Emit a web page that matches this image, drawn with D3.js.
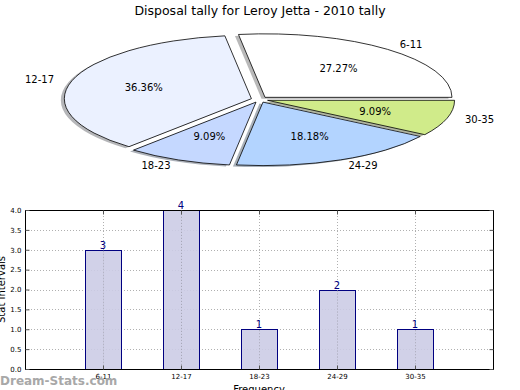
<!DOCTYPE html>
<html>
<head>
<meta charset="utf-8">
<script src="https://cdn.jsdelivr.net/npm/d3@7"></script>
<style>
body { margin: 0; background: #fff; }
svg { display: block; font-family: 'DejaVu Sans', sans-serif; }
</style>
</head>
<body>
<div id="canvas"></div>
<script>
const title = 'Disposal tally for Leroy Jetta - 2010 tally';
const categories = ['6-11', '12-17', '18-23', '24-29', '30-35'];
const counts = [3, 4, 1, 2, 1];
const sliceColors = ['#ffffff', '#ebf1ff', '#c5d8ff', '#b3d4ff', '#d0eb8a'];
const yTicks = [0, 0.5, 1, 1.5, 2, 2.5, 3, 3.5, 4];

const w = 520;
const h = 390;

const svg = d3.select('#canvas')
  .append('svg')
  .attr('width', w)
  .attr('height', h);

svg.append('text')
  .attr('x', 260)
  .attr('y', 15)
  .attr('text-anchor', 'middle')
  .style('font-size', '12.5px')
  .text(title);

// ---- pie (squashed, exploded, with shadow) ----
const cx = 259.5, cy = 99.5, rx = 187, ry = 63.5, explode = 0.045;
const total = d3.sum(counts);

const pie = d3.pie().sort(null).startAngle(Math.PI / 2).endAngle(Math.PI / 2 - 2 * Math.PI);
const arcs = pie(counts);
const arc = d3.arc().innerRadius(0).outerRadius(1);

// mid angle in svg terms: point = (sin a, -cos a)
arcs.forEach(d => {
  const a = (d.startAngle + d.endAngle) / 2;
  d.ux = Math.sin(a);
  d.uy = -Math.cos(a);
  d.ox = cx + explode * rx * d.ux;
  d.oy = cy + explode * ry * d.uy;
});

const pieG = svg.append('g');

pieG.selectAll('path.shadow')
  .data(arcs)
  .enter()
  .append('path')
  .attr('class', 'shadow')
  .attr('d', arc)
  .attr('transform', d => 'translate(' + (d.ox - 3.5) + ',' + (d.oy + 1.5) + ') scale(' + rx + ',' + ry + ')')
  .attr('fill', (d, i) => d3.rgb(sliceColors[i]).darker(2.2))
  .attr('fill-opacity', 0.5);

pieG.selectAll('path.slice')
  .data(arcs)
  .enter()
  .append('path')
  .attr('class', 'slice')
  .attr('d', arc)
  .attr('transform', d => 'translate(' + d.ox + ',' + d.oy + ') scale(' + rx + ',' + ry + ')')
  .attr('fill', (d, i) => sliceColors[i])
  .attr('stroke', '#000')
  .attr('stroke-width', 0.8)
  .attr('vector-effect', 'non-scaling-stroke');

pieG.selectAll('text.label')
  .data(arcs)
  .enter()
  .append('text')
  .attr('class', 'label')
  .attr('x', d => d.ox + 1.1 * rx * d.ux)
  .attr('y', d => d.oy + 1.1 * ry * d.uy)
  .attr('dy', '0.35em')
  .attr('text-anchor', d => d.ux > 0 ? 'start' : 'end')
  .style('font-size', '10px')
  .text((d, i) => categories[i]);

pieG.selectAll('text.pct')
  .data(arcs)
  .enter()
  .append('text')
  .attr('class', 'pct')
  .attr('x', d => d.ox + 0.6 * rx * d.ux)
  .attr('y', d => d.oy + 0.6 * ry * d.uy)
  .attr('dy', '0.35em')
  .attr('text-anchor', 'middle')
  .style('font-size', '10px')
  .text(d => (d.value / total * 100).toFixed(2) + '%');

// ---- bar chart ----
const mLeft = 25, mRight = 493, mTop = 210, mBottom = 369;

const x = d3.scaleLinear().domain([-1, 5]).range([mLeft, mRight]);
const y = d3.scaleLinear().domain([0, 4]).range([mBottom, mTop]);
const barW = x(0.46) - x(0);

const grid = svg.append('g')
  .attr('stroke', '#b0b0b0')
  .attr('stroke-width', 1)
  .attr('stroke-dasharray', '1,2');

grid.selectAll('line.h')
  .data(yTicks.slice(1, -1))
  .enter()
  .append('line')
  .attr('x1', mLeft).attr('x2', mRight)
  .attr('y1', d => Math.round(y(d)) + 0.5).attr('y2', d => Math.round(y(d)) + 0.5);

grid.selectAll('line.v')
  .data(categories)
  .enter()
  .append('line')
  .attr('x1', (d, i) => Math.round(x(i)) + 0.5).attr('x2', (d, i) => Math.round(x(i)) + 0.5)
  .attr('y1', mTop).attr('y2', mBottom);

svg.append('g')
  .selectAll('rect')
  .data(counts)
  .enter()
  .append('rect')
  .attr('x', (d, i) => Math.round(x(i) - barW / 2) + 0.5)
  .attr('y', d => Math.round(y(d)) + 0.5)
  .attr('width', Math.round(barW))
  .attr('height', d => Math.round(y(0)) - Math.round(y(d)))
  .attr('fill', 'rgba(204,204,230,0.9)')
  .attr('stroke', '#000080')
  .attr('stroke-width', 1);

// vertical grid shows through the bars in the reference
const grid2 = svg.append('g')
  .attr('stroke', '#a8a8b8')
  .attr('stroke-width', 1)
  .attr('stroke-dasharray', '1,2');
grid2.selectAll('line')
  .data(categories)
  .enter()
  .append('line')
  .attr('x1', (d, i) => Math.round(x(i)) + 0.5).attr('x2', (d, i) => Math.round(x(i)) + 0.5)
  .attr('y1', (d, i) => y(counts[i]) + 1).attr('y2', mBottom);

svg.append('g')
  .selectAll('text')
  .data(counts)
  .enter()
  .append('text')
  .attr('x', (d, i) => x(i))
  .attr('y', d => y(d) - 1)
  .attr('text-anchor', 'middle')
  .attr('fill', '#000080')
  .style('font-size', '10px')
  .text(d => d);

// frame
svg.append('rect')
  .attr('x', mLeft + 0.5).attr('y', mTop + 0.5)
  .attr('width', mRight - mLeft).attr('height', mBottom - mTop)
  .attr('fill', 'none')
  .attr('stroke', '#000')
  .attr('stroke-width', 1);

const yAxis = d3.axisLeft(y).tickValues(yTicks).tickFormat(d3.format('.1f')).tickSize(-4).tickPadding(4);
const yAxisR = d3.axisRight(y).tickValues(yTicks).tickFormat('').tickSize(-4);
const xAxis = d3.axisBottom(x).tickValues(d3.range(categories.length)).tickFormat(i => categories[i]).tickSize(-4).tickPadding(5);
const xAxisT = d3.axisTop(x).tickValues(d3.range(categories.length)).tickFormat('').tickSize(-4);

[
  [yAxis, 'translate(' + (mLeft + 0.5) + ',0)'],
  [yAxisR, 'translate(' + (mRight + 0.5) + ',0)'],
  [xAxis, 'translate(0,' + (mBottom + 0.5) + ')'],
  [xAxisT, 'translate(0,' + (mTop + 0.5) + ')']
].forEach(a => {
  const g = svg.append('g').attr('transform', a[1]).call(a[0]);
  g.select('.domain').remove();
  g.selectAll('.tick line').attr('stroke', '#555');
  g.selectAll('.tick text').style('font-size', '7px').style('font-family', 'DejaVu Sans, sans-serif');
});

svg.append('text')
  .attr('transform', 'translate(1.5,' + ((mTop + mBottom) / 2) + ') rotate(-90)')
  .attr('text-anchor', 'middle')
  .attr('dy', '0.35em')
  .style('font-size', '10px')
  .text('Stat Intervals');

svg.append('text')
  .attr('x', (mLeft + mRight) / 2)
  .attr('y', 393)
  .attr('text-anchor', 'middle')
  .style('font-size', '10px')
  .text('Frequency');

svg.append('text')
  .attr('x', 0)
  .attr('y', 385)
  .attr('fill', '#a8a8a8')
  .style('font-size', '12px')
  .style('font-weight', 'bold')
  .text('Dream-Stats.com');
</script>
</body>
</html>
